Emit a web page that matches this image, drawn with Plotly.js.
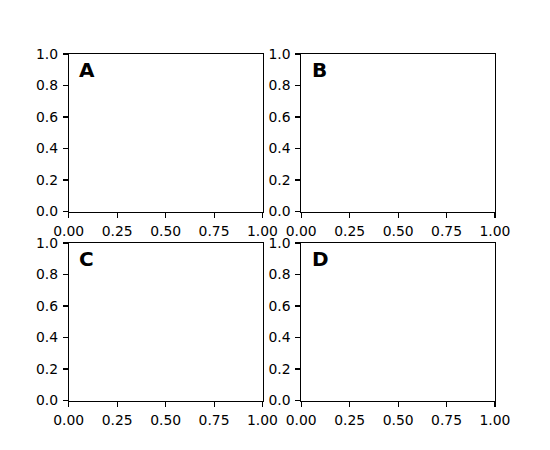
<!DOCTYPE html>
<html>
<head>
<meta charset="utf-8">
<script src="https://cdn.plot.ly/plotly-3.0.1.min.js"></script>
<style>html,body{margin:0;padding:0;background:#fff;}#plot{width:550px;height:450px;}</style>
</head>
<body>
<div id="plot"></div>
<script>
const panelLabels = ["A", "B", "C", "D"];
const xTickVals = [0, 0.25, 0.5, 0.75, 1];
const xTickText = ["0.00", "0.25", "0.50", "0.75", "1.00"];
const yTickVals = [0, 0.2, 0.4, 0.6, 0.8, 1];
const yTickText = ["0.0", "0.2", "0.4", "0.6", "0.8", "1.0"];

const W = 550, H = 450;
const xDomains = [[68.75 / W, 262.5 / W], [301.25 / W, 495 / W]];
const yDomains = [[1 - 211.5 / H, 1 - 54 / H], [1 - 400.5 / H, 1 - 243 / H]];

const font = {family: "DejaVu Sans", size: 13.9, color: "#000"};
const layout = {
  width: W, height: H,
  margin: {l: 0, r: 0, t: 0, b: 0},
  paper_bgcolor: "#fff", plot_bgcolor: "#fff",
  showlegend: false,
  font: font,
  annotations: []
};
const data = [];
panelLabels.forEach((lab, i) => {
  const r = Math.floor(i / 2), c = i % 2;
  const n = i + 1;
  const xa = "xaxis" + (n === 1 ? "" : n), ya = "yaxis" + (n === 1 ? "" : n);
  const xr = "x" + (n === 1 ? "" : n), yr = "y" + (n === 1 ? "" : n);
  const common = {
    range: [0, 1], showgrid: false, zeroline: false, showline: true, mirror: true,
    linecolor: "#000", linewidth: 1.1, ticks: "outside", ticklen: 4.9, tickwidth: 1.1,
    tickcolor: "#000", tickfont: font, tickmode: "array", fixedrange: true,
    ticklabelstandoff: 2
  };
  layout[xa] = Object.assign({}, common, {domain: xDomains[c], anchor: yr,
    tickvals: xTickVals, ticktext: xTickText});
  layout[ya] = Object.assign({}, common, {domain: yDomains[r], anchor: xr,
    tickvals: yTickVals, ticktext: yTickText});
  data.push({type: "scatter", x: [], y: [], xaxis: xr, yaxis: yr, hoverinfo: "skip"});
  layout.annotations.push({
    text: "<b>" + lab + "</b>", xref: xr + " domain", yref: yr + " domain",
    x: 0.05, y: 0.978, xanchor: "left", yanchor: "top", showarrow: false,
    font: {family: "DejaVu Sans", size: 20, color: "#000"}, borderpad: 0
  });
});
Plotly.newPlot("plot", data, layout, {staticPlot: true, displayModeBar: false});
</script>
</body>
</html>
